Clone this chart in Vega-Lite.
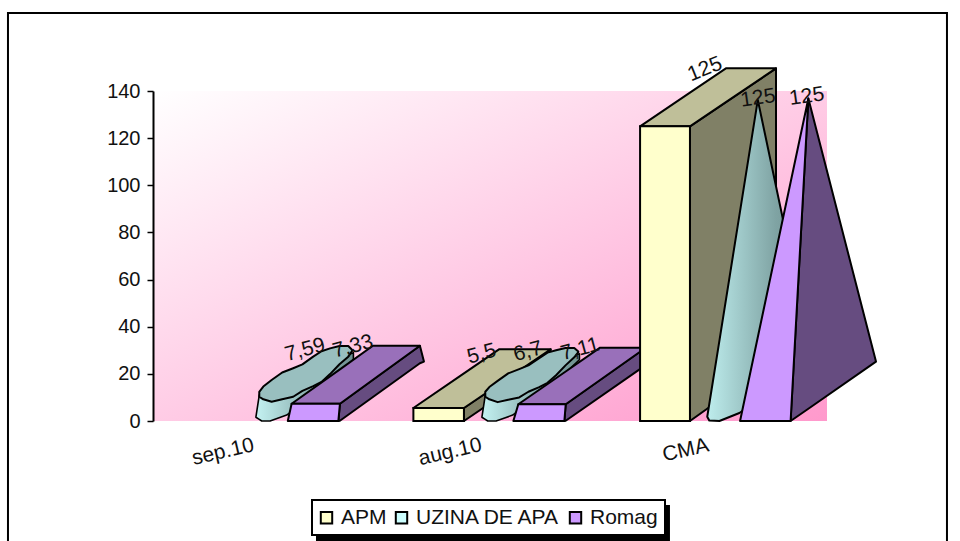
{
  "$schema": "https://vega.github.io/schema/vega-lite/v6.json",
  "width": 674,
  "height": 330,
  "padding": {"left": 153, "top": 91, "right": 133, "bottom": 120},
  "autosize": "none",
  "background": "white",
  "config": {
    "view": {"stroke": null},
    "font": "Liberation Sans",
    "legend": {"strokeWidth": 2}
  },
  "datasets": {
    "plotArea": [{"x": 0, "xEnd": 3, "y": 0, "yLow": 140}],
    "frame": [{"x": -0.6455, "xEnd": 3.534, "y": 173.1, "yLow": -55}],
    "legendShadow": [{"x": 0.7255, "xEnd": 2.301, "y": -35.6, "yLow": -50.9}],
    "apmBars": [
      {"category": "aug.10", "face": "APM", "value": 5.5, "x": 1.159, "xEnd": 1.384, "yLow": 0},
      {"category": "CMA", "face": "APM", "value": 125, "x": 2.168, "xEnd": 2.39, "yLow": 0}
    ],
    "apmAugFaces": [
      {"poly": "side", "face": "APM side", "x": 1.384, "y": 5.5, "yLow": 0},
      {"poly": "side", "face": "APM side", "x": 1.77, "y": 30.4, "yLow": 25},
      {"poly": "top", "face": "APM top", "x": 1.159, "y": 5.5, "yLow": 5.5},
      {"poly": "top", "face": "APM top", "x": 1.384, "y": 20.2, "yLow": 5.5},
      {"poly": "top", "face": "APM top", "x": 1.54, "y": 30.4, "yLow": 15.6},
      {"poly": "top", "face": "APM top", "x": 1.77, "y": 30.4, "yLow": 30.4}
    ],
    "cylinderBodies": [
      {"poly": "sep", "x": 0.458, "y": 1.6, "yLow": 1.6},
      {"poly": "sep", "x": 0.473, "y": 11, "yLow": 0.7},
      {"poly": "sep", "x": 0.484, "y": 13, "yLow": 0},
      {"poly": "sep", "x": 0.521, "y": 14, "yLow": 0},
      {"poly": "sep", "x": 0.595, "y": 14, "yLow": 2.5},
      {"poly": "sep", "x": 0.684, "y": 20, "yLow": 8.9},
      {"poly": "sep", "x": 0.802, "y": 25, "yLow": 18.1},
      {"poly": "sep", "x": 0.892, "y": 29, "yLow": 26.2},
      {"poly": "aug", "x": 1.464, "y": 1.6, "yLow": 1.6},
      {"poly": "aug", "x": 1.479, "y": 11, "yLow": 0.7},
      {"poly": "aug", "x": 1.49, "y": 13, "yLow": 0},
      {"poly": "aug", "x": 1.527, "y": 14, "yLow": 0},
      {"poly": "aug", "x": 1.601, "y": 14, "yLow": 2.5},
      {"poly": "aug", "x": 1.69, "y": 20, "yLow": 8.9},
      {"poly": "aug", "x": 1.808, "y": 25, "yLow": 18},
      {"poly": "aug", "x": 1.898, "y": 28.5, "yLow": 26}
    ],
    "lowFaces": [
      {"poly": "capSep", "face": "UZINA cap", "x": 0.473, "y": 12.4, "yLow": 10.3},
      {"poly": "capSep", "face": "UZINA cap", "x": 0.491, "y": 14.6, "yLow": 9.2},
      {"poly": "capSep", "face": "UZINA cap", "x": 0.528, "y": 17.4, "yLow": 8.2},
      {"poly": "capSep", "face": "UZINA cap", "x": 0.575, "y": 20.6, "yLow": 9.2},
      {"poly": "capSep", "face": "UZINA cap", "x": 0.624, "y": 22.4, "yLow": 10.3},
      {"poly": "capSep", "face": "UZINA cap", "x": 0.665, "y": 24, "yLow": 12.8},
      {"poly": "capSep", "face": "UZINA cap", "x": 0.713, "y": 27.3, "yLow": 14.8},
      {"poly": "capSep", "face": "UZINA cap", "x": 0.75, "y": 29.6, "yLow": 16.6},
      {"poly": "capSep", "face": "UZINA cap", "x": 0.788, "y": 30.8, "yLow": 19.9},
      {"poly": "capSep", "face": "UZINA cap", "x": 0.83, "y": 31.8, "yLow": 24.1},
      {"poly": "capSep", "face": "UZINA cap", "x": 0.869, "y": 31.8, "yLow": 27.3},
      {"poly": "capSep", "face": "UZINA cap", "x": 0.887, "y": 30.1, "yLow": 29.8},
      {"poly": "romagSepSide", "face": "Romag side", "x": 0.825, "y": 0, "yLow": 0},
      {"poly": "romagSepSide", "face": "Romag side", "x": 0.832, "y": 7.33, "yLow": 0.1},
      {"poly": "romagSepSide", "face": "Romag side", "x": 1.188, "y": 31.9, "yLow": 24.5},
      {"poly": "romagSepSide", "face": "Romag side", "x": 1.206, "y": 25.2, "yLow": 25.2},
      {"poly": "romagSepTop", "face": "Romag top", "x": 0.617, "y": 7.33, "yLow": 7.33},
      {"poly": "romagSepTop", "face": "Romag top", "x": 0.832, "y": 21.9, "yLow": 7.33},
      {"poly": "romagSepTop", "face": "Romag top", "x": 0.979, "y": 31.9, "yLow": 17.5},
      {"poly": "romagSepTop", "face": "Romag top", "x": 1.188, "y": 31.9, "yLow": 31.9},
      {"poly": "romagSepFront", "face": "Romag", "x": 0.6, "y": 0, "yLow": 0},
      {"poly": "romagSepFront", "face": "Romag", "x": 0.617, "y": 7.33, "yLow": 0},
      {"poly": "romagSepFront", "face": "Romag", "x": 0.825, "y": 7.33, "yLow": 0},
      {"poly": "romagSepFront", "face": "Romag", "x": 0.832, "y": 7.33, "yLow": 7.33},
      {"poly": "capAug", "face": "UZINA cap", "x": 1.479, "y": 12.4, "yLow": 10.3},
      {"poly": "capAug", "face": "UZINA cap", "x": 1.497, "y": 14.4, "yLow": 9.2},
      {"poly": "capAug", "face": "UZINA cap", "x": 1.534, "y": 17, "yLow": 8},
      {"poly": "capAug", "face": "UZINA cap", "x": 1.581, "y": 20.2, "yLow": 9},
      {"poly": "capAug", "face": "UZINA cap", "x": 1.63, "y": 22, "yLow": 10},
      {"poly": "capAug", "face": "UZINA cap", "x": 1.671, "y": 23.6, "yLow": 12.4},
      {"poly": "capAug", "face": "UZINA cap", "x": 1.719, "y": 26.7, "yLow": 14.4},
      {"poly": "capAug", "face": "UZINA cap", "x": 1.756, "y": 29, "yLow": 16.2},
      {"poly": "capAug", "face": "UZINA cap", "x": 1.794, "y": 30, "yLow": 19.4},
      {"poly": "capAug", "face": "UZINA cap", "x": 1.836, "y": 31, "yLow": 23.6},
      {"poly": "capAug", "face": "UZINA cap", "x": 1.875, "y": 31, "yLow": 27},
      {"poly": "capAug", "face": "UZINA cap", "x": 1.893, "y": 29.5, "yLow": 29.2},
      {"poly": "romagAugSide", "face": "Romag side", "x": 1.831, "y": 0, "yLow": 0},
      {"poly": "romagAugSide", "face": "Romag side", "x": 1.837, "y": 7.11, "yLow": 0.1},
      {"poly": "romagAugSide", "face": "Romag side", "x": 2.193, "y": 31.1, "yLow": 23.7},
      {"poly": "romagAugSide", "face": "Romag side", "x": 2.212, "y": 25, "yLow": 25},
      {"poly": "romagAugTop", "face": "Romag top", "x": 1.626, "y": 7.11, "yLow": 7.11},
      {"poly": "romagAugTop", "face": "Romag top", "x": 1.837, "y": 21, "yLow": 7.11},
      {"poly": "romagAugTop", "face": "Romag top", "x": 1.99, "y": 31.1, "yLow": 17.4},
      {"poly": "romagAugTop", "face": "Romag top", "x": 2.193, "y": 31.1, "yLow": 31.1},
      {"poly": "romagAugFront", "face": "Romag", "x": 1.604, "y": 0, "yLow": 0},
      {"poly": "romagAugFront", "face": "Romag", "x": 1.626, "y": 7.11, "yLow": 0},
      {"poly": "romagAugFront", "face": "Romag", "x": 1.831, "y": 7.11, "yLow": 0},
      {"poly": "romagAugFront", "face": "Romag", "x": 1.837, "y": 7.11, "yLow": 7.11}
    ],
    "apmCmaFaces": [
      {"poly": "side", "face": "APM side", "x": 2.39, "y": 125, "yLow": 0},
      {"poly": "side", "face": "APM side", "x": 2.773, "y": 149.6, "yLow": 26},
      {"poly": "top", "face": "APM top", "x": 2.168, "y": 125, "yLow": 125},
      {"poly": "top", "face": "APM top", "x": 2.39, "y": 139.3, "yLow": 125},
      {"poly": "top", "face": "APM top", "x": 2.55, "y": 149.6, "yLow": 135.3},
      {"poly": "top", "face": "APM top", "x": 2.773, "y": 149.6, "yLow": 149.6}
    ],
    "cone": [
      {"x": 2.467, "y": 1.8, "yLow": 1.8},
      {"x": 2.476, "y": 7.2, "yLow": 0.2},
      {"x": 2.521, "y": 34, "yLow": 0},
      {"x": 2.61, "y": 87.2, "yLow": 3.4},
      {"x": 2.692, "y": 136.2, "yLow": 8.8},
      {"x": 2.938, "y": 25, "yLow": 25}
    ],
    "pyramid": [
      {"poly": "side", "face": "Romag side", "x": 2.838, "y": 0, "yLow": 0},
      {"poly": "side", "face": "Romag side", "x": 2.917, "y": 136.8, "yLow": 5.2},
      {"poly": "side", "face": "Romag side", "x": 3.218, "y": 25.2, "yLow": 25.2},
      {"poly": "front", "face": "Romag", "x": 2.613, "y": 0, "yLow": 0},
      {"poly": "front", "face": "Romag", "x": 2.838, "y": 101.3, "yLow": 0},
      {"poly": "front", "face": "Romag", "x": 2.917, "y": 136.8, "yLow": 136.8}
    ],
    "valueLabels": [
      {"group": "low", "series": "UZINA DE APA", "category": "sep.10", "label": "7,59", "x": 0.677, "y": 30.1},
      {"group": "low", "series": "Romag", "category": "sep.10", "label": "7,33", "x": 0.89, "y": 31.5},
      {"group": "low", "series": "APM", "category": "aug.10", "label": "5,5", "x": 1.463, "y": 28.4},
      {"group": "low", "series": "UZINA DE APA", "category": "aug.10", "label": "6,7", "x": 1.669, "y": 29.4},
      {"group": "low", "series": "Romag", "category": "aug.10", "label": "7,11", "x": 1.901, "y": 30.4},
      {"group": "box", "series": "APM", "category": "CMA", "label": "125", "x": 2.457, "y": 149.2},
      {"group": "peak", "series": "UZINA DE APA", "category": "CMA", "label": "125", "x": 2.693, "y": 136.9},
      {"group": "peak", "series": "Romag", "category": "CMA", "label": "125", "x": 2.91, "y": 137.6}
    ],
    "categories": [
      {"label": "sep.10", "x": 0.312, "y": -13.2},
      {"label": "aug.10", "x": 1.323, "y": -13.2},
      {"label": "CMA", "x": 2.371, "y": -12.5}
    ]
  },
  "encoding": {
    "x": {"field": "x", "type": "quantitative", "axis": null, "scale": {"domain": [0, 3], "nice": false, "zero": false}},
    "y": {
      "field": "y",
      "type": "quantitative",
      "scale": {"domain": [0, 140], "nice": false},
      "axis": {
        "title": null,
        "values": [0, 20, 40, 60, 80, 100, 120, 140],
        "grid": false,
        "zindex": 1,
        "domainColor": "black",
        "domainWidth": 2,
        "tickColor": "black",
        "tickWidth": 1.5,
        "tickSize": 6,
        "labelColor": "#111111",
        "labelFont": "Liberation Sans",
        "labelFontSize": 20,
        "labelPadding": 7
      }
    },
    "fill": {
      "field": "face",
      "type": "nominal",
      "scale": {
        "domain": ["APM", "UZINA DE APA", "Romag", "APM top", "APM side", "UZINA cap", "Romag top", "Romag side"],
        "range": ["#FFFFCC", "#CCFFFF", "#CC99FF", "#BFBF99", "#808066", "#99BFBF", "#9970BA", "#664C80"]
      },
      "legend": {
        "values": ["APM", "UZINA DE APA", "Romag"],
        "title": null,
        "orient": "none",
        "legendX": 159,
        "legendY": 409,
        "direction": "horizontal",
        "columns": 3,
        "columnPadding": 4,
        "padding": 7,
        "fillColor": "white",
        "strokeColor": "black",
        "symbolType": "square",
        "symbolSize": 130,
        "symbolOffset": -3,
        "symbolStrokeColor": "black",
        "symbolStrokeWidth": 2,
        "symbolOpacity": 1,
        "labelFont": "Liberation Sans",
        "labelFontSize": 21,
        "labelColor": "#111111",
        "labelOffset": 4
      }
    }
  },
  "layer": [
    {
      "data": {"name": "frame"},
      "mark": {"type": "rect", "stroke": "black", "strokeWidth": 2},
      "encoding": {"x2": {"field": "xEnd"}, "y2": {"field": "yLow"}, "fill": {"value": "white"}}
    },
    {
      "data": {"name": "plotArea"},
      "mark": {"type": "rect"},
      "encoding": {
        "x2": {"field": "xEnd"},
        "y2": {"field": "yLow"},
        "fill": {"value": {"gradient": "linear", "x1": 0, "y1": 0, "x2": 1, "y2": 1, "stops": [{"offset": 0, "color": "#FFFFFF"}, {"offset": 1, "color": "#FF99CC"}]}}
      }
    },
    {
      "data": {"name": "apmAugFaces"},
      "mark": {"type": "area", "stroke": "black", "strokeWidth": 2, "strokeJoin": "round"},
      "encoding": {"y2": {"field": "yLow"}, "detail": {"field": "poly"}}
    },
    {
      "data": {"name": "apmBars"},
      "transform": [{"filter": "datum.category === 'aug.10'"}],
      "mark": {"type": "rect", "stroke": "black", "strokeWidth": 2},
      "encoding": {"x2": {"field": "xEnd"}, "y": {"field": "value", "type": "quantitative"}, "y2": {"field": "yLow"}}
    },
    {
      "data": {"name": "cylinderBodies"},
      "mark": {"type": "area", "stroke": "black", "strokeWidth": 1.6, "strokeJoin": "round"},
      "encoding": {
        "y2": {"field": "yLow"},
        "detail": {"field": "poly"},
        "fill": {"value": {"gradient": "linear", "x1": 0, "y1": 0, "x2": 1, "y2": 0, "stops": [{"offset": 0, "color": "#C4F2F2"}, {"offset": 0.5, "color": "#8FB4B4"}, {"offset": 1, "color": "#6F9090"}]}}
      }
    },
    {
      "data": {"name": "lowFaces"},
      "mark": {"type": "area", "stroke": "black", "strokeWidth": 2, "strokeJoin": "round"},
      "encoding": {"y2": {"field": "yLow"}, "detail": {"field": "poly"}}
    },
    {
      "data": {"name": "apmCmaFaces"},
      "mark": {"type": "area", "stroke": "black", "strokeWidth": 2, "strokeJoin": "round"},
      "encoding": {"y2": {"field": "yLow"}, "detail": {"field": "poly"}}
    },
    {
      "data": {"name": "apmBars"},
      "transform": [{"filter": "datum.category === 'CMA'"}],
      "mark": {"type": "rect", "stroke": "black", "strokeWidth": 2},
      "encoding": {"x2": {"field": "xEnd"}, "y": {"field": "value", "type": "quantitative"}, "y2": {"field": "yLow"}}
    },
    {
      "data": {"name": "cone"},
      "mark": {"type": "area", "stroke": "black", "strokeWidth": 2, "strokeJoin": "round"},
      "encoding": {
        "y2": {"field": "yLow"},
        "fill": {"value": {"gradient": "linear", "x1": 0, "y1": 0, "x2": 1, "y2": 0, "stops": [{"offset": 0, "color": "#BEEDED"}, {"offset": 0.65, "color": "#7FA3A3"}, {"offset": 1, "color": "#6F9090"}]}}
      }
    },
    {
      "data": {"name": "pyramid"},
      "mark": {"type": "area", "stroke": "black", "strokeWidth": 2, "strokeJoin": "round"},
      "encoding": {"y2": {"field": "yLow"}, "detail": {"field": "poly"}}
    },
    {
      "data": {"name": "legendShadow"},
      "mark": {"type": "rect"},
      "encoding": {"x2": {"field": "xEnd"}, "y2": {"field": "yLow"}, "fill": {"value": "black"}}
    },
    {
      "data": {"name": "valueLabels"},
      "transform": [{"filter": "datum.group === 'low'"}],
      "mark": {"type": "text", "angle": 345, "font": "Liberation Sans", "fontSize": 21, "align": "center", "baseline": "middle"},
      "encoding": {"text": {"field": "label"}, "fill": {"value": "#111111"}}
    },
    {
      "data": {"name": "valueLabels"},
      "transform": [{"filter": "datum.group === 'box'"}],
      "mark": {"type": "text", "angle": 338, "font": "Liberation Sans", "fontSize": 21, "align": "center", "baseline": "middle"},
      "encoding": {"text": {"field": "label"}, "fill": {"value": "#111111"}}
    },
    {
      "data": {"name": "valueLabels"},
      "transform": [{"filter": "datum.group === 'peak'"}],
      "mark": {"type": "text", "angle": 352, "font": "Liberation Sans", "fontSize": 21, "align": "center", "baseline": "middle"},
      "encoding": {"text": {"field": "label"}, "fill": {"value": "#111111"}}
    },
    {
      "data": {"name": "categories"},
      "mark": {"type": "text", "angle": 347, "font": "Liberation Sans", "fontSize": 21, "align": "center", "baseline": "middle"},
      "encoding": {"text": {"field": "label"}, "fill": {"value": "#111111"}}
    }
  ]
}
